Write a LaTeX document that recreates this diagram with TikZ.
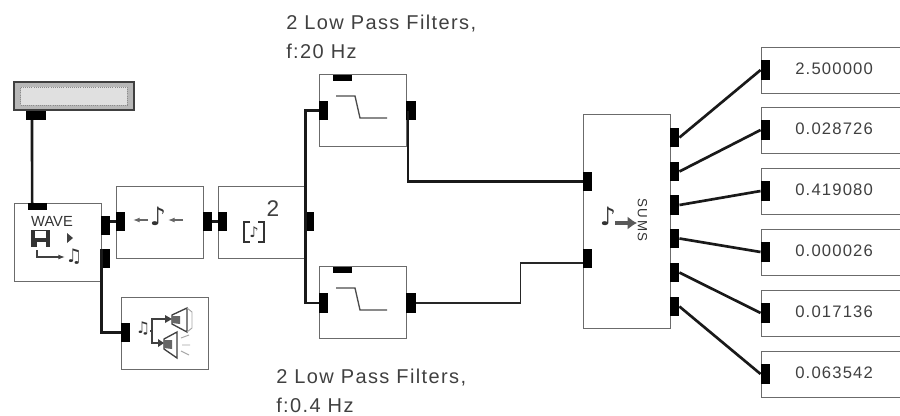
\documentclass[tikz,border=0pt]{standalone}
\usepackage{fontspec}
\setmainfont{Liberation Sans}
\newfontfamily\symfont{DejaVu Sans}
\usetikzlibrary{arrows.meta}
\definecolor{edgegray}{gray}{0.42}
\definecolor{textgray}{gray}{0.25}
\tikzset{
    block/.style={draw=edgegray,line width=1pt,fill=white,anchor=north west,inner sep=0pt,
                  minimum width=65.25pt,minimum height=54pt},
    readout/.style={draw=edgegray,line width=1.1pt,fill=white,anchor=north west,inner sep=0pt,
                    minimum width=112.5pt,minimum height=34.5pt},
    vport/.style={fill=black,inner sep=0pt,minimum width=7pt,minimum height=14.5pt},
    hport/.style={fill=black,inner sep=0pt,minimum width=14.5pt,minimum height=5pt},
    wire/.style={line width=2pt,black!90},
    thinwire/.style={line width=1.3pt,black!85},
    caption/.style={font=\fontsize{15}{18}\selectfont\addfontfeature{LetterSpace=7},text=textgray,
                    anchor=west,inner sep=0pt},
    value/.style={font=\fontsize{12.5}{15}\selectfont\addfontfeature{LetterSpace=7},text=textgray,
                  anchor=west,inner sep=0pt},
    icon/.style={inner sep=0pt,text=black!80},
    icline/.style={line width=1pt,black!75}
}
\begin{document}
\begin{tikzpicture}[x=0.75pt,y=-0.75pt]
        \useasboundingbox (0,0) rectangle (900,415);
        % blocks
        \node[block,minimum width=65.25pt,minimum height=58.5pt] (wave) at (14,203) {};
        \node[block] (flip) at (116,186) {};
        \node[block] (square) at (218,186) {};
        \node[block] (speaker) at (121,297) {};
        \node[block] (lowA) at (319,74) {};
        \node[block] (lowB) at (319,266) {};
        \node[block,minimum height=160.5pt] (sum) at (583,114) {};
        % slider on top
        \node[draw=black!75,line width=1.4pt,fill=black!28,anchor=north west,inner sep=0pt,
              minimum width=90pt,minimum height=21pt] (slider) at (13,81) {};
        \node[draw=black!45,fill=black!12,densely dotted,line width=.6pt,inner sep=0pt,
              minimum width=80pt,minimum height=13.5pt] at (slider.center) {};
        % readouts
        \foreach \name/\ypos/\val in {a/47/2.500000,b/107/0.028726,c/168/0.419080,
                                      d/229/0.000026,e/290/0.017136,f/351/0.063542}{
            \node[readout] (out\name) at (761,\ypos) {};
            \node[value] (val\name) at (795,\ypos+22) {\val};
            \node[vport] (in\name) at (765.5,\ypos+23) {};
        }
        % ports
        \node[hport,minimum height=6.5pt] (sliderout) at (36,115.5) {};
        \node[hport] (wavetop) at (37.5,206.5) {};
        \node[vport] (waveA) at (105.5,225.5) {};
        \node[vport] (waveB) at (105.5,258.5) {};
        \node[vport] (flipin) at (120.5,221.5) {};
        \node[vport] (flipout) at (207.5,221.5) {};
        \node[vport] (squarein) at (222.5,221.5) {};
        \node[vport] (squareout) at (309.5,221.5) {};
        \node[vport] (speakerin) at (125.5,332.5) {};
        \node[hport] at (342.5,78) {};
        \node[vport] (lowAin) at (323.5,110.5) {};
        \node[vport] (lowAout) at (411,110.5) {};
        \node[hport] at (342.5,270) {};
        \node[vport] (lowBin) at (323.5,303) {};
        \node[vport] (lowBout) at (411,303) {};
        \node[vport] (sumA) at (587.5,181.5) {};
        \node[vport] (sumB) at (587.5,258.5) {};
        \foreach \name/\ypos in {a/137.5,b/171.5,c/205,d/238.5,e/272.5,f/306.5}{
            \node[vport] (sum\name) at (674.5,\ypos) {};
        }
        \coordinate (bendB) at (520.5,263);
        % wires
        \draw[wire] ([xshift=-3pt]sliderout.south) -- ([xshift=-4pt]wavetop.north);
        \draw[wire] (waveA.east |- flipin) -- (flipin);
        \draw[wire] (waveB.north west) ++(0.9pt,0) |- (speakerin);
        \draw[wire] (flipout) -- (squarein);
        \draw[wire] (squareout.west) ++(0.7pt,0) |- (lowAin);
        \draw[wire] (squareout.west) ++(0.7pt,0) |- (lowBin);
        \draw[wire] (lowAout.west) ++(1.5pt,0) |- (sumA);
        \draw[thinwire] (lowBout) -- (bendB |- lowBout) -- (bendB) -- (sumB.west |- bendB);
        \draw[wire] (suma.east) -- (ina.west);
        \draw[wire] (sumb.east) -- (inb.west);
        \draw[wire] (sumc.east) -- (inc.west);
        \draw[wire] (sumd.east) -- (ind.west);
        \draw[wire] (sume.east) -- (ine.west);
        \draw[wire] (sumf.east) -- (inf.west);
        % captions
        \node[caption] (capA) at (286,24) {2 Low Pass Filters,};
        \node[caption] at (286,51) {f:20 Hz};
        \node[caption] (capB) at (276,378) {2 Low Pass Filters,};
        \node[caption] at (276,405) {f:0.4 Hz};
        % wave icon
        \node[icon,font=\fontsize{11}{12}\selectfont] at (52,221) {WAVE};
        \fill[black!80] (31,230) rectangle (50,247);
        \fill[white] (35,231) rectangle (46,238);
        \fill[white] (37,242) rectangle (46,247);
        \fill[black!75] (67,233) -- (73,238) -- (67,243) -- cycle;
        \draw[icline,-{Latex[length=5pt]}] (37,250) -- (37,257) -- (65,257);
        \node[icon,font=\symfont\fontsize{14}{14}\selectfont] at (74,257) {♫};
        % flip icon
        \draw[line width=1.6pt,black!60,-{Latex[length=5pt]}] (148,220) -- (133,220);
        \draw[line width=1.6pt,black!60,-{Latex[length=5pt]}] (183,220) -- (168,220);
        \node[icon,font=\symfont\fontsize{19}{19}\selectfont] at (158,216) {♪};
        % square icon
        \draw[line width=1.6pt,black!80] (250,222) -- (244,222) -- (244,242) -- (250,242);
        \draw[line width=1.6pt,black!80] (258,222) -- (264,222) -- (264,242) -- (258,242);
        \node[icon,font=\symfont\fontsize{11}{11}\selectfont] at (254,232) {♪};
        \node[icon,font=\fontsize{17}{17}\selectfont,text=textgray] at (273,209) {2};
        % speaker icon
        \node[icon,font=\symfont\fontsize{12}{12}\selectfont] at (143,328) {♫};
        \draw[icline,line width=1.6pt] (150,331) -- (152,331) -- (152,319) -- (166,319);
        \draw[icline,line width=1.6pt] (152,331) -- (152,343) -- (159,343);
        \fill[black!75] (165,315) -- (172,319) -- (165,323) -- cycle;
        \fill[black!75] (158,339) -- (164,343) -- (158,347) -- cycle;
        \draw[icline] (172,315) -- (187,308) -- (187,332) -- (172,324) -- cycle;
        \draw[icline] (164,339) -- (177,332) -- (177,358) -- (164,349) -- cycle;
        \fill[black!60] (172,316) -- (180,316) -- (180,324) -- (172,323) -- cycle;
        \fill[black!60] (164,340) -- (172,340) -- (172,349) -- (164,348) -- cycle;
        \draw[black!35,line width=.7pt] (187,308) -- (192,312) -- (192,328) -- (187,332);
        \draw[black!35,line width=.7pt] (181,338) -- (189,335) (182,345) -- (190,345) (181,351) -- (189,355);
        % low pass curves
        \foreach \ypos in {74,266}{
            \draw[line width=1pt,black!70] (336,\ypos+22) -- (355,\ypos+22) -- (360,\ypos+44) -- (387,\ypos+44);
        }
        % sum icon
        \node[icon,font=\symfont\fontsize{19}{19}\selectfont] at (608,216) {♪};
        \draw[line width=3.5pt,black!65,-{Latex[length=7pt,width=10pt]}] (615,223) -- (637,223);
        \node[icon,rotate=-90,font=\fontsize{10}{12}\selectfont\addfontfeature{LetterSpace=12}] at (642.5,220) {SUMS};
\end{tikzpicture}
\end{document}
